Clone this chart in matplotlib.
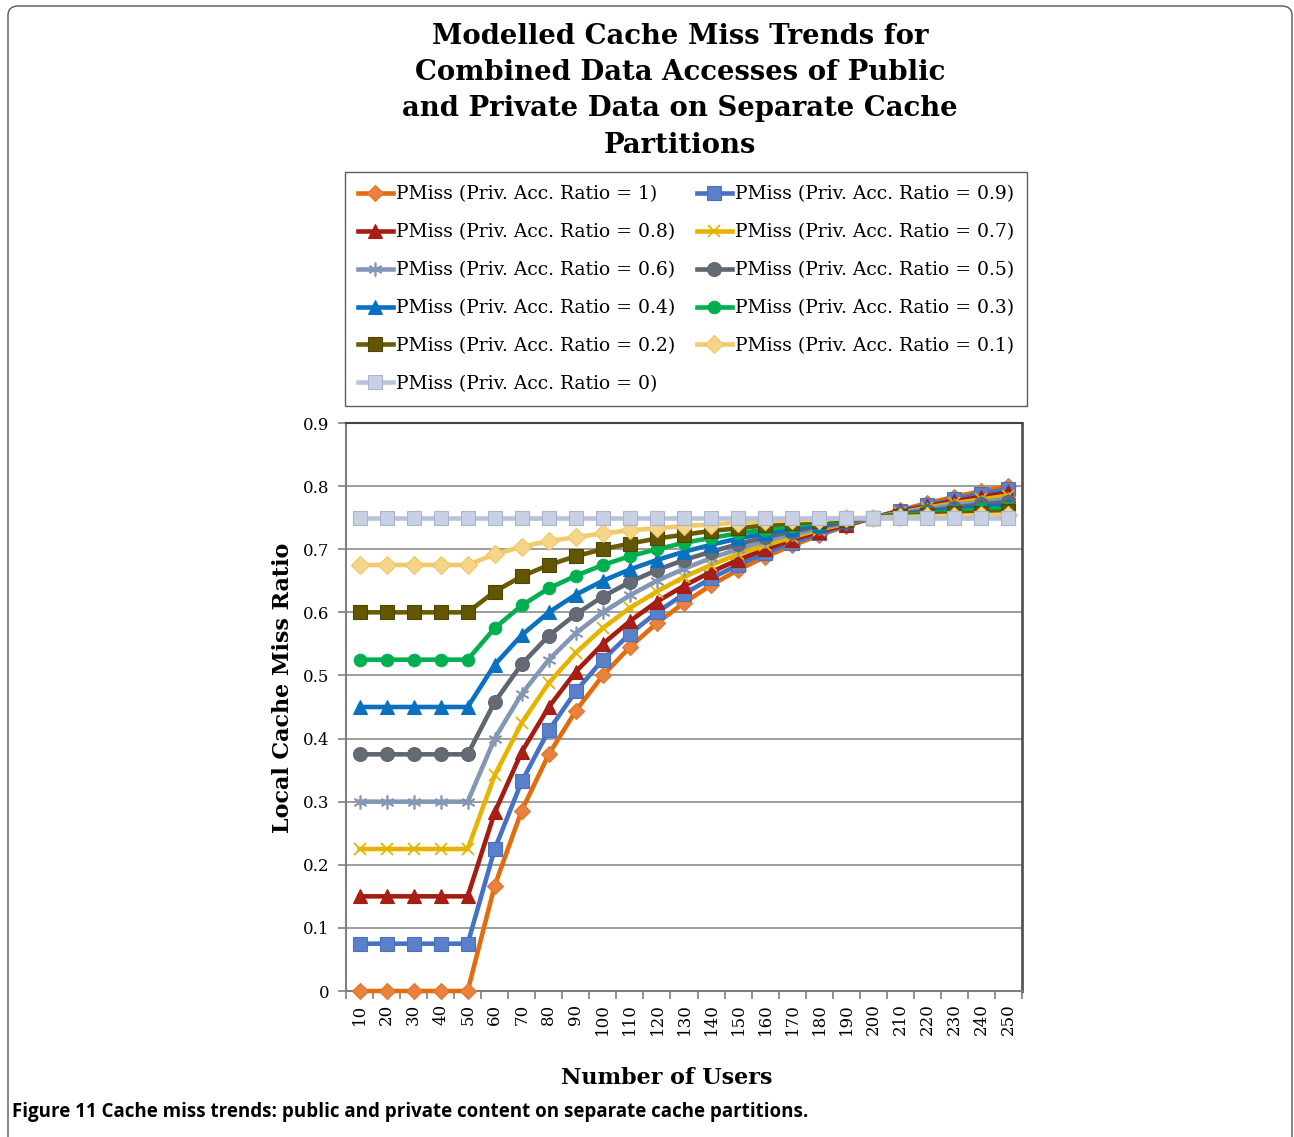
import matplotlib
matplotlib.use("Agg")
import matplotlib.pyplot as plt
from matplotlib.patches import FancyBboxPatch
from matplotlib.ticker import FixedLocator, NullFormatter

W, H = 1294, 1137

users = [10, 20, 30, 40, 50, 60, 70, 80, 90, 100, 110, 120, 130, 140, 150,
         160, 170, 180, 190, 200, 210, 220, 230, 240, 250]

p_1_0 = [0, 0, 0, 0, 0, 0.167, 0.286, 0.375, 0.444, 0.5, 0.545, 0.583, 0.615,
         0.643, 0.667, 0.688, 0.706, 0.722, 0.737, 0.75, 0.762, 0.773, 0.783, 0.792, 0.8]
p_0_9 = [0.075, 0.075, 0.075, 0.075, 0.075, 0.225, 0.332, 0.413, 0.475, 0.525, 0.566,
         0.6, 0.629, 0.654, 0.675, 0.694, 0.71, 0.725, 0.738, 0.75, 0.761, 0.77, 0.779, 0.788, 0.795]
p_0_8 = [0.15, 0.15, 0.15, 0.15, 0.15, 0.283, 0.379, 0.45, 0.506, 0.55, 0.586, 0.617,
         0.642, 0.664, 0.683, 0.7, 0.715, 0.728, 0.739, 0.75, 0.76, 0.768, 0.776, 0.783, 0.79]
p_0_7 = [0.225, 0.225, 0.225, 0.225, 0.225, 0.342, 0.425, 0.488, 0.536, 0.575, 0.607,
         0.633, 0.656, 0.675, 0.692, 0.706, 0.719, 0.731, 0.741, 0.75, 0.758, 0.766, 0.773, 0.779, 0.785]
p_0_6 = [0.3, 0.3, 0.3, 0.3, 0.3, 0.4, 0.471, 0.525, 0.567, 0.6, 0.627, 0.65, 0.669,
         0.686, 0.7, 0.713, 0.724, 0.733, 0.742, 0.75, 0.757, 0.764, 0.77, 0.775, 0.78]
p_0_5 = [0.375, 0.375, 0.375, 0.375, 0.375, 0.458, 0.518, 0.563, 0.597, 0.625, 0.648,
         0.667, 0.683, 0.696, 0.708, 0.719, 0.728, 0.736, 0.743, 0.75, 0.756, 0.761, 0.766, 0.771, 0.775]
p_0_4 = [0.45, 0.45, 0.45, 0.45, 0.45, 0.517, 0.564, 0.6, 0.628, 0.65, 0.668, 0.683,
         0.696, 0.707, 0.717, 0.725, 0.732, 0.739, 0.745, 0.75, 0.755, 0.759, 0.763, 0.767, 0.77]
p_0_3 = [0.525, 0.525, 0.525, 0.525, 0.525, 0.575, 0.611, 0.638, 0.658, 0.675, 0.689,
         0.7, 0.71, 0.718, 0.725, 0.731, 0.737, 0.742, 0.746, 0.75, 0.754, 0.757, 0.76, 0.763, 0.765]
p_0_2 = [0.6, 0.6, 0.6, 0.6, 0.6, 0.633, 0.657, 0.675, 0.689, 0.7, 0.709, 0.717, 0.723,
         0.729, 0.733, 0.738, 0.741, 0.744, 0.747, 0.75, 0.752, 0.755, 0.757, 0.758, 0.76]
p_0_1 = [0.675, 0.675, 0.675, 0.675, 0.675, 0.692, 0.704, 0.713, 0.719, 0.725, 0.73,
         0.733, 0.737, 0.739, 0.742, 0.744, 0.746, 0.747, 0.749, 0.75, 0.751, 0.752, 0.753, 0.754, 0.755]
p_0_0 = [0.75] * 25

ratios = ["1", "0.9", "0.8", "0.7", "0.6", "0.5", "0.4", "0.3", "0.2", "0.1", "0"]
series = [p_1_0, p_0_9, p_0_8, p_0_7, p_0_6, p_0_5, p_0_4, p_0_3, p_0_2, p_0_1, p_0_0]

styles = [
    dict(color="#E46C0A", marker="D", mfc="#E8823E", mec="#E07530", ms=8.5),
    dict(color="#4472C4", marker="s", mfc="#5B80C8", mec="#4A72BC", ms=9.5),
    dict(color="#A51C10", marker="^", mfc="#A82015", mec="#A51C10", ms=10),
    dict(color="#E4B400", marker="x", mfc="#E4B400", mec="#E4B400", ms=9, mew=1.3),
    dict(color="#8496B6", marker=(6, 2, 0), mfc="#8496B6", mec="#8496B6", ms=10, mew=1.2),
    dict(color="#5F6670", marker="o", mfc="#656B75", mec="#5F6670", ms=10),
    dict(color="#0A70C0", marker="^", mfc="#0A70C0", mec="#0A70C0", ms=10),
    dict(color="#00B050", marker="o", mfc="#00B050", mec="#00B050", ms=9),
    dict(color="#6A5C00", marker="s", mfc="#625600", mec="#4F4600", ms=9.5),
    dict(color="#F2CA6A", marker="D", mfc="#F6D587", mec="#EEC66A", ms=9),
    dict(color="#B8C2DA", marker="s", mfc="#C8D0E4", mec="#A8B4D0", ms=10.5),
]

serif = ["DejaVu Serif"]

fig = plt.figure(figsize=(W / 100, H / 100), dpi=100)

# outer rounded frame (open at bottom)
frame = FancyBboxPatch((8 / W, -0.05), (1292 - 8) / W, (H - 6) / H + 0.05,
                       boxstyle="round,pad=0,rounding_size=0.008",
                       transform=fig.transFigure, fill=False,
                       edgecolor="#555555", linewidth=1.0)
fig.patches.append(frame)

ax = fig.add_axes([346 / W, 1 - 991 / H, (1022 - 346) / W, (991 - 423) / H])

x = list(range(len(users)))
handles = []
for i, (r, ys, st) in enumerate(zip(ratios, series, styles)):
    h, = ax.plot(x, ys, color=st["color"], lw=3.3, marker=st["marker"],
                 markersize=st["ms"], markerfacecolor=st["mfc"],
                 markeredgecolor=st["mec"], markeredgewidth=st.get("mew", 0.8),
                 label=f"PMiss (Priv. Acc. Ratio = {r})", zorder=3 + i,
                 clip_on=False)
    handles.append(h)

ax.set_xlim(-0.5, len(users) - 0.5)
ax.set_ylim(0, 0.9)
yt = [0, 0.1, 0.2, 0.3, 0.4, 0.5, 0.6, 0.7, 0.8, 0.9]
ax.set_yticks(yt)
ax.set_yticklabels(["0" if v == 0 else f"{v:g}" for v in yt], fontfamily=serif, fontsize=12)
ax.yaxis.grid(True, color="#8C8C8C", lw=1.2)
ax.set_axisbelow(True)

ax.set_xticks(x)
ax.set_xticklabels([str(u) for u in users], rotation=90, fontfamily=serif, fontsize=12)
ax.tick_params(axis="x", which="major", length=0, pad=9)
ax.xaxis.set_minor_locator(FixedLocator([i - 0.5 for i in range(len(users) + 1)]))
ax.xaxis.set_minor_formatter(NullFormatter())
ax.tick_params(axis="x", which="minor", length=6, width=1.2, color="#808080", direction="out")
ax.tick_params(axis="y", length=6, width=1.2, color="#808080", direction="out", pad=6)

for s in ax.spines.values():
    s.set_color("#7F7F7F")
    s.set_linewidth(1.5)
ax.spines["top"].set_color("#444444")
ax.spines["right"].set_color("#555555")
ax.spines["right"].set_linewidth(2)

# legend
order = [0, 2, 4, 6, 8, 10, 1, 3, 5, 7, 9]
leg = fig.legend([handles[i] for i in order], [handles[i].get_label() for i in order],
                 loc="lower left", bbox_to_anchor=(345 / W, 1 - 406 / H, (1027 - 345) / W, 0.1),
                 mode="expand", ncol=2, frameon=True, fancybox=False,
                 prop=dict(family=serif, size=13.5), handlelength=1.85,
                 handletextpad=0.15, labelspacing=1.06, borderpad=0.7,
                 columnspacing=0.5, borderaxespad=0)
leg.get_frame().set_edgecolor("#333333")
leg.get_frame().set_linewidth(1.0)

# titles
title_lines = ["Modelled Cache Miss Trends for", "Combined Data Accesses of Public",
               "and Private Data on Separate Cache", "Partitions"]
for k, t in enumerate(title_lines):
    fig.text(680 / W, 1 - (36 + k * 36.5) / H, t, ha="center", va="center",
             fontfamily=serif, fontweight="bold", fontsize=19.8)

fig.text(283 / W, 1 - 688 / H, "Local Cache Miss Ratio", rotation=90, ha="center",
         va="center", fontfamily=serif, fontweight="bold", fontsize=16)
fig.text(667 / W, 1 - 1078 / H, "Number of Users", ha="center", va="center",
         fontfamily=serif, fontweight="bold", fontsize=16)

fig.text(12 / W, 1 - 1112 / H,
         "Figure 11 Cache miss trends: public and private content on separate cache partitions.",
         ha="left", va="center", fontfamily=["Open Sans", "DejaVu Sans"], fontweight="bold",
         fontsize=13.5)

fig.savefig("out.png", dpi=100)
